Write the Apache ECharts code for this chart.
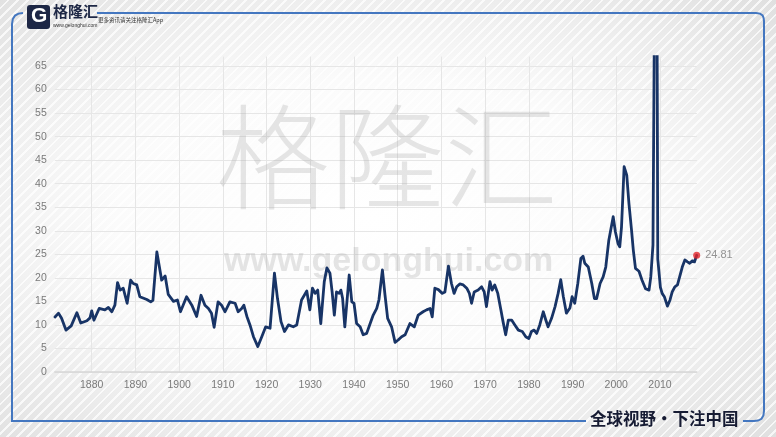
<!DOCTYPE html>
<html><head><meta charset="utf-8">
<script src="https://cdn.jsdelivr.net/npm/echarts@6/dist/echarts.min.js"></script>
<style>
html,body{margin:0;padding:0;width:776px;height:437px;overflow:hidden;}
body{
  background:
    repeating-linear-gradient(135deg, rgba(255,255,255,0) 0px, rgba(255,255,255,0) 5px, rgba(255,255,255,0.75) 5px, rgba(255,255,255,0.75) 7px),
    radial-gradient(ellipse at 48% 50%, #ffffff 0%, #fbfbfb 45%, #e0e0e0 100%);
}
#c{width:776px;height:437px;}
</style></head>
<body><div id="c"></div>
<script>
// S&P 500 P/E ratio (decimal years)
const years = [
1871.6,1872.4,1873.1,1874.1,1875.3,1876.6,1877.5,1878.9,1879.6,1880.0,
1880.5,1881.7,1883.0,1883.8,1884.6,1885.3,1885.9,1886.5,1887.2,1888.1,
1888.9,1889.5,1890.3,1891.0,1892.6,1893.5,1894.0,1894.9,1896.0,1896.8,
1897.5,1898.7,1899.6,1900.3,1901.7,1902.9,1904.0,1905.0,1905.9,1906.7,
1907.4,1908.0,1908.9,1909.7,1910.5,1911.6,1912.8,1913.5,1914.3,1914.8,
1915.5,1916.2,1917.0,1918.0,1918.9,1919.8,1920.8,1921.8,1922.5,1923.3,
1924.1,1925.0,1926.1,1926.9,1928.0,1929.2,1929.9,1930.5,1931.1,1931.7,
1932.4,1933.2,1933.8,1934.5,1935.0,1935.5,1936.0,1936.6,1937.0,1937.4,
1937.9,1938.9,1939.5,1940.0,1940.6,1941.4,1942.1,1942.9,1943.7,1944.4,
1945.2,1945.7,1946.5,1947.1,1947.7,1948.6,1949.4,1950.1,1950.9,1951.7,
1952.8,1953.8,1954.7,1955.8,1956.6,1957.4,1957.9,1958.5,1959.3,1960.2,
1960.8,1961.6,1962.3,1962.9,1963.5,1964.2,1965.0,1965.8,1966.4,1966.9,
1967.5,1968.4,1969.2,1969.8,1970.3,1971.1,1971.6,1972.2,1972.9,1973.6,
1974.1,1974.7,1975.3,1976.1,1976.8,1977.6,1978.5,1979.3,1980.0,1980.6,
1981.2,1981.8,1982.5,1983.3,1983.9,1984.4,1985.2,1986.0,1986.7,1987.3,
1987.9,1988.6,1989.4,1989.9,1990.5,1991.2,1991.9,1992.4,1992.8,1993.6,
1994.4,1995.0,1995.5,1996.3,1997.0,1997.6,1998.3,1999.3,1999.8,2000.4,
2000.8,2001.2,2001.8,2002.4,2002.9,2003.5,2003.9,2004.4,2005.2,2005.9,
2006.7,2007.5,2007.9,2008.4,2008.9,2009.1,2009.25,2009.5,2010.1,2010.5,
2011.0,2011.3,2011.7,2012.3,2012.8,2013.4,2014.0,2014.5,2015.1,2015.7,
2016.3,2016.8,2017.4,2017.9,2018.4
];
const pe = [
11.7,12.5,11.4,8.9,9.8,12.6,10.4,10.9,11.5,13.0,
11.0,13.5,13.2,13.7,12.8,14.2,19.0,17.4,17.8,14.6,
19.5,18.8,18.5,16.0,15.4,14.9,15.2,25.5,19.5,20.4,
16.5,15.0,15.3,12.8,16.0,14.2,11.8,16.3,14.2,13.5,
12.5,9.5,14.9,14.2,12.8,14.9,14.6,12.8,13.5,14.2,
11.8,10.0,7.5,5.4,7.5,9.6,9.3,21.0,15.6,10.7,
8.6,10.0,9.6,10.0,15.3,17.2,13.2,17.8,16.7,17.4,
10.3,19.2,22.1,21.0,17.0,12.1,17.0,16.7,17.4,15.6,
9.6,20.6,14.9,14.6,10.3,9.6,7.9,8.2,10.3,12.1,
13.5,15.3,21.7,16.3,11.4,9.6,6.3,6.8,7.5,7.9,
10.3,9.6,12.1,12.8,13.2,13.5,11.7,17.8,17.5,16.7,
17.0,22.5,18.8,16.7,18.1,18.7,18.5,17.8,16.7,14.6,
17.0,17.4,18.1,17.0,13.9,19.2,17.4,18.5,16.7,13.2,
10.7,7.9,11.0,11.0,10.0,8.9,8.6,7.5,7.1,8.6,
8.9,8.2,10.0,12.8,11.0,9.6,11.4,13.9,16.7,19.6,
16.0,12.5,13.6,16.0,14.6,18.8,24.1,24.6,23.1,22.3,
18.8,15.6,15.6,18.8,20.2,22.3,28.0,33.0,29.8,27.3,
26.6,30.8,43.6,41.8,35.8,30.1,25.9,22.0,21.4,19.5,
17.7,17.4,20.2,27.0,100.0,123.7,100.0,24.0,18.0,16.7,
16.0,15.6,14.0,15.3,17.0,18.1,18.5,20.2,22.3,23.8,
23.4,23.1,23.6,23.4,24.81
];
const yTickStep = 5;
const yMax = 67;
const decadeStep = 10;

const lineData = years.map((y, i) => [y, pe[i]]);
const last = lineData[lineData.length - 1];

const font = '"Liberation Sans", Arial, sans-serif';
const cjk = '"Noto Sans CJK SC", sans-serif';
const frameBlue = '#4477c0';

const chart = echarts.init(document.getElementById('c'), null, {renderer: 'canvas'});
chart.setOption({
  animation: false,
  backgroundColor: 'transparent',
  grid: [
    {left: 48, right: 72.3, top: 56.6, bottom: 65},
    {left: 54.8, right: 79.1, top: 56.6, bottom: 65}
  ],
  xAxis: [
    {
      gridIndex: 0, type: 'value', min: 1870, max: 2020, interval: decadeStep,
      axisLine: {show: false}, axisTick: {show: false},
      axisLabel: {show: true, showMinLabel: false, showMaxLabel: false, color: '#7a7a7a',
        fontSize: 10.5, fontFamily: font, margin: 8, formatter: v => String(v)},
      splitLine: {show: true, showMinLine: false, showMaxLine: false,
        lineStyle: {color: '#e6e6e6', width: 1}}
    },
    {
      gridIndex: 1, type: 'value', min: 1871.55, max: 2018.45,
      axisLine: {show: true, onZero: false, lineStyle: {color: '#d6d6d6', width: 1.5}},
      axisTick: {show: false}, axisLabel: {show: false}, splitLine: {show: false}
    }
  ],
  yAxis: [
    {gridIndex: 0, type: 'value', min: 0, max: yMax, show: false},
    {
      gridIndex: 1, type: 'value', min: 0, max: yMax, interval: yTickStep,
      axisLine: {show: false}, axisTick: {show: false},
      axisLabel: {color: '#7a7a7a', fontSize: 10.5, fontFamily: font, margin: 8, showMaxLabel: false},
      splitLine: {show: true, showMaxLine: false, lineStyle: {color: '#e6e6e6', width: 1}}
    }
  ],
  graphic: [
    // watermark
    {type: 'text', z: 1, silent: true, x: 216, y: 100,
      style: {text: '格隆汇', font: '300 114px ' + cjk, fill: 'rgba(160,160,160,0.26)'}},
    {type: 'text', z: 1, silent: true, x: 224, y: 245,
      style: {text: 'www.gelonghui.com', font: 'bold 34px ' + font, fill: 'rgba(160,160,160,0.28)'}},
    // frame
    {type: 'polyline', z: 5, silent: true,
      shape: {points: [[97,13],[756,13],[760,13.6],[762.6,15.4],[763.6,18],[764,21],[764,411],[763.4,415.5],[761.5,418.8],[758,420.6],[754,421],[743,421]]},
      style: {stroke: frameBlue, lineWidth: 2, fill: null}},
    {type: 'polyline', z: 5, silent: true,
      shape: {points: [[23,13],[18.5,13.6],[15,15.6],[12.8,19],[12,24],[12,421],[586,421]]},
      style: {stroke: frameBlue, lineWidth: 2, fill: null}},
    // logo
    {type: 'rect', z: 6, silent: true, shape: {x: 27, y: 5, width: 23, height: 24, r: 3},
      style: {fill: '#1d2745'}},
    {type: 'text', z: 7, silent: true, x: 31, y: 6,
      style: {text: 'G', font: 'bold 21px ' + font, fill: '#ffffff'}},
    {type: 'text', z: 6, silent: true, x: 53, y: 4,
      style: {text: '格隆汇', font: 'bold 15px ' + cjk, fill: '#1d2745'}},
    {type: 'text', z: 6, silent: true, x: 53, y: 23,
      style: {text: 'www.gelonghui.com', font: '5px ' + font, fill: '#333'}},
    {type: 'text', z: 6, silent: true, x: 98, y: 17,
      style: {text: '更多资讯请关注格隆汇App', font: '5.5px ' + cjk, fill: '#333'}},
    {type: 'text', z: 6, silent: true, x: 590, y: 410,
      style: {text: '全球视野・下注中国', font: 'bold 16.5px ' + cjk, fill: '#161b33'}}
  ],
  series: [
    {
      type: 'line', xAxisIndex: 1, yAxisIndex: 1, z: 3,
      data: lineData, showSymbol: false, smooth: false, clip: true,
      lineStyle: {color: '#183466', width: 2.8, join: 'round', cap: 'round'},
      emphasis: {disabled: true}
    },
    {
      type: 'scatter', xAxisIndex: 1, yAxisIndex: 1, z: 4,
      data: [last], symbol: 'circle', symbolSize: 7,
      itemStyle: {color: '#e3262b'},
      label: {show: true, position: 'right', distance: 5, color: '#7a7a7a',
        fontSize: 11, fontFamily: font, formatter: p => p.value[1].toFixed(2)}
    }
  ]
});
</script>
</body></html>
